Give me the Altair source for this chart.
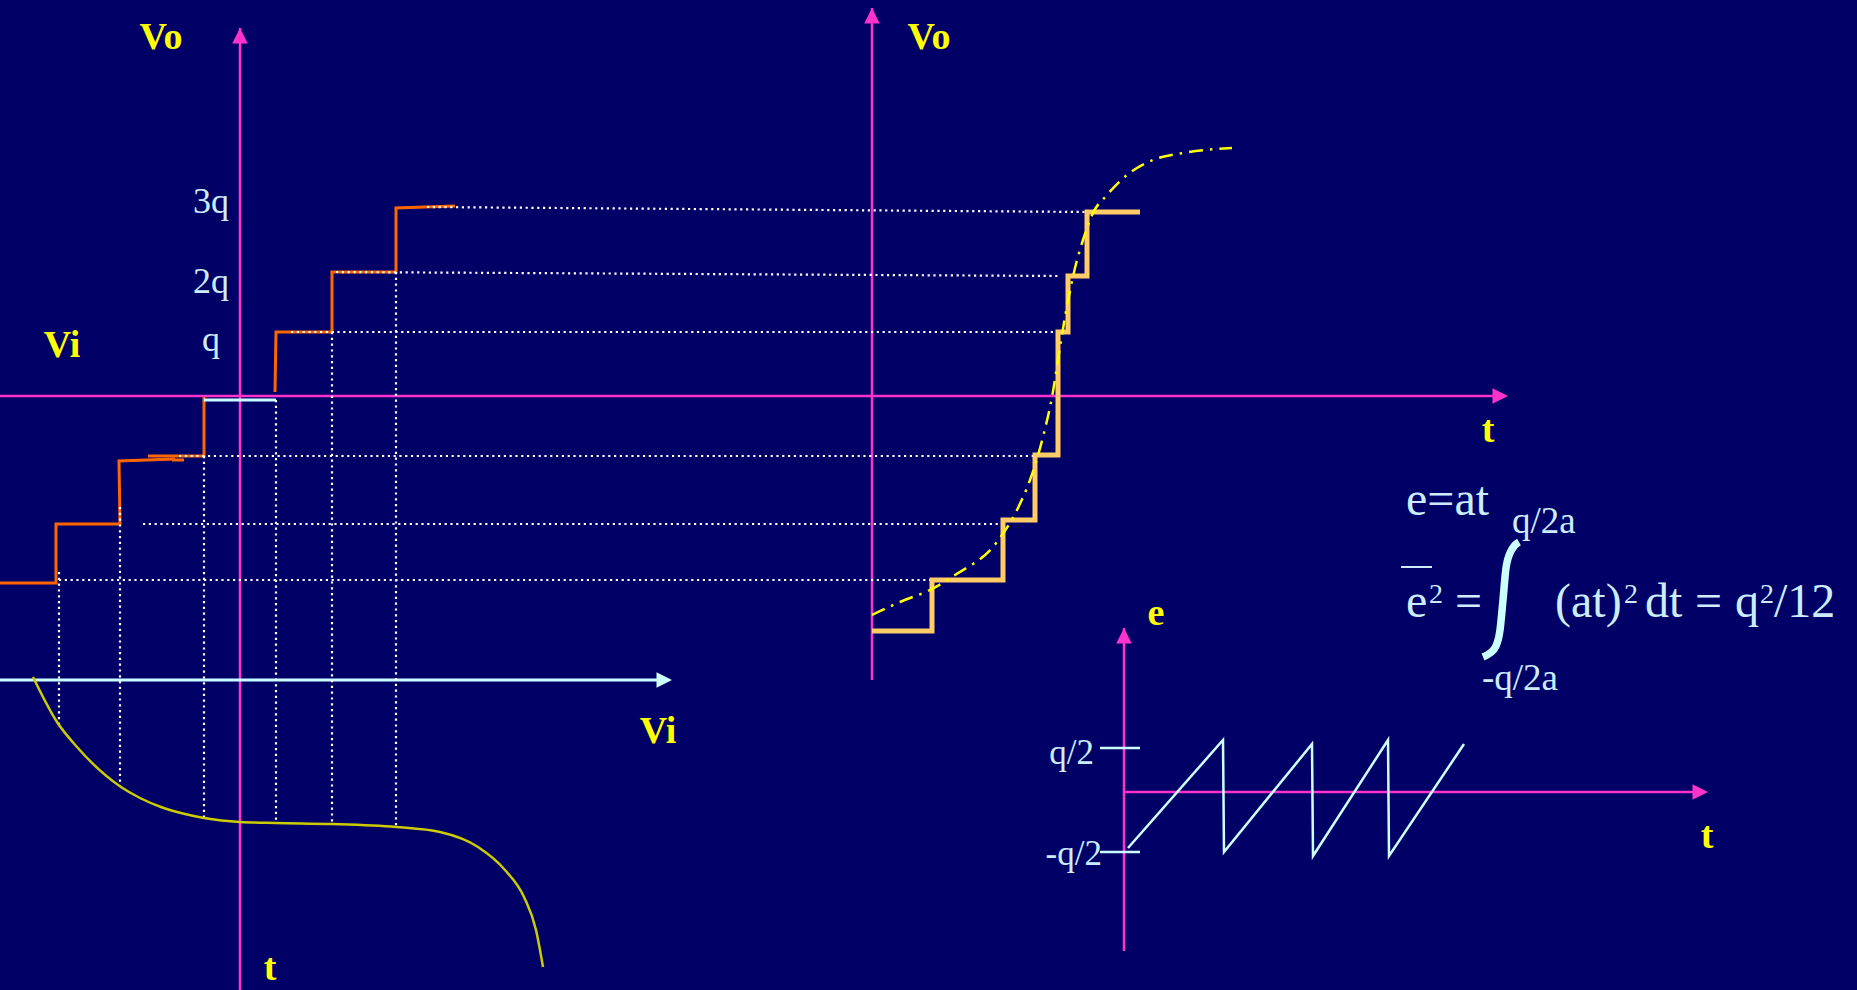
import altair as alt
import pandas as pd

# Canvas in diagram units (origin top-left, y grows downward)
W, H = 1857, 990

BG = "#000066"
MAGENTA = "#ff33cc"
CYAN = "#ccffff"
TEXT = "#ccecff"
YELLOW = "#ffff00"
ORANGE = "#ff6600"
GOLD = "#ffcc66"
OLIVE = "#cccc00"

# ---- magenta axes (x, y, x2, y2)
axis_x = [240, 0, 872, 1124, 1124]
axis_y = [28, 396, 8, 628, 792]
axis_x2 = [240, 1500, 872, 1124, 1700]
axis_y2 = [990, 396, 680, 951, 792]

# ---- arrow heads: tip position and direction
arrow_x = [240, 872, 1124, 1508, 1708, 672]
arrow_y = [28, 8, 628, 396, 792, 680]
arrow_dir = ["up", "up", "up", "right", "right", "right"]
arrow_col = [MAGENTA, MAGENTA, MAGENTA, MAGENTA, MAGENTA, CYAN]

# ---- Vi axis of the transfer characteristic
vi_axis_x = [0, 664]
vi_axis_y = [680, 680]

# ---- quantizer staircase Vo(Vi), drawn as several strokes
stair_a_x = [0, 56, 56, 120, 119, 175]
stair_a_y = [583, 583, 524, 524, 461, 459]
stair_b_x = [172, 184]
stair_b_y = [460, 460]
stair_c_x = [148, 204, 204]
stair_c_y = [456, 456, 397]
stair_d_x = [275, 276, 332, 332, 396, 396, 455]
stair_d_y = [392, 332, 332, 272, 272, 208, 206]
zero_step_x = [204, 276]
zero_step_y = [400, 400]

# ---- dotted projection lines: horizontals (x, y, x2, y2)
hproj_x = [427, 336, 291, 179, 143, 59]
hproj_y = [207, 272, 332, 456, 524, 580]
hproj_x2 = [1087, 1058, 1060, 1033, 1004, 932]
hproj_y2 = [212, 276, 332, 456, 524, 580]
# verticals
vproj_x = [59, 120, 204, 276, 332, 396]
vproj_y = [572, 507, 456, 400, 332, 272]
vproj_y2 = [728, 787, 818, 824, 823, 828]

# ---- input signal Vi(t)
sig_x = [33, 57, 77, 121, 140, 161, 185, 204, 240, 276, 332, 396, 440, 478, 505, 524, 536, 543]
sig_y = [677, 722, 747, 787, 798, 807, 814, 818, 822, 823, 824, 827, 832, 847, 870, 897, 930, 967]

# ---- quantized output Vo(t)
out_x = [872, 932, 932, 1003, 1003, 1035, 1035, 1058, 1058, 1068, 1068, 1087, 1087, 1140]
out_y = [631, 631, 580, 580, 520, 520, 455, 455, 332, 332, 276, 276, 212, 212]

# ---- continuous output (dash-dot)
cont_x = [872, 900, 932, 955, 997, 1018, 1030, 1044, 1052, 1060, 1065, 1075, 1083, 1093, 1107, 1127, 1153, 1183, 1232]
cont_y = [615, 602, 589, 575, 542, 508, 480, 433, 397, 347, 317, 268, 240, 213, 195, 175, 160, 153, 148]

# ---- quantization error e(t), sawtooth
saw_x = [1128, 1223, 1224, 1312, 1313, 1388, 1389, 1464]
saw_y = [848, 740, 852, 744, 856, 740, 856, 744]
tick_x = [1100, 1100]
tick_y = [748, 852]
tick_x2 = [1140, 1140]

# ---- integral sign and overbar of the formula
integ_x = [1519, 1511, 1506, 1503, 1500, 1496, 1490, 1483]
integ_y = [542, 551, 568, 600, 630, 646, 653, 657]
bar_x = [1401, 1432]
bar_y = [567, 567]

# ---- labels
axis_lbl = ["Vo", "Vi", "Vi", "t", "Vo", "t", "e", "t"]
axis_lbl_x = [161, 62, 658, 270, 929, 1488, 1156, 1707]
axis_lbl_y = [49, 357, 743, 980, 49, 442, 625, 848]

lvl_lbl = ["3q", "2q", "q"]
lvl_lbl_x = [211, 211, 211]
lvl_lbl_y = [213, 293, 351]

err_lbl = ["q/2", "-q/2"]
err_lbl_x = [1094, 1102]
err_lbl_y = [764, 865]

eq_txt = ["e=at", "q/2a", "e", "2", "=", "(at)", "2", "dt", "=", "q", "2", "/12", "-q/2a"]
eq_x = [1406, 1512, 1406, 1429, 1455, 1555, 1624, 1645, 1695, 1735, 1760, 1774, 1482]
eq_y = [515, 533, 617, 603, 617, 617, 603, 617, 617, 617, 603, 617, 690]
eq_fs = [48, 37, 48, 28, 48, 48, 28, 48, 48, 48, 28, 48, 37]

xsc = alt.Scale(domain=[0, W], nice=False, zero=False)
ysc = alt.Scale(domain=[0, H], reverse=True, nice=False, zero=False)


def X():
    return alt.X("x:Q", scale=xsc, axis=None)


def Y():
    return alt.Y("y:Q", scale=ysc, axis=None)


def path(xs, ys, key="p"):
    return pd.DataFrame({"x": xs, "y": ys, "k": key, "i": list(range(len(xs)))})


def line_layer(df, color, width, dash=None, interp="linear", cap="butt"):
    kw = dict(color=color, strokeWidth=width, strokeCap=cap, strokeJoin="miter", interpolate=interp)
    if dash:
        kw["strokeDash"] = dash
    return alt.Chart(df).mark_line(**kw).encode(X(), Y(), detail="k:N", order="i:Q")


def rule_layer(df, color, width, dash=None):
    kw = dict(color=color, strokeWidth=width, strokeCap="butt")
    if dash:
        kw["strokeDash"] = dash
    return alt.Chart(df).mark_rule(**kw).encode(X(), Y(), x2="x2:Q", y2="y2:Q")


def text_layer(df, color, weight, align):
    return alt.Chart(df).mark_text(
        color=color, font="Liberation Serif", fontWeight=weight, align=align, baseline="alphabetic"
    ).encode(X(), Y(), text="s:N", size=alt.Size("fs:Q", scale=None))


axes_df = pd.DataFrame({"x": axis_x, "y": axis_y, "x2": axis_x2, "y2": axis_y2})
hproj_df = pd.DataFrame({"x": hproj_x, "y": hproj_y, "x2": hproj_x2, "y2": hproj_y2})
vproj_df = pd.DataFrame({"x": vproj_x, "y": vproj_y, "x2": vproj_x, "y2": vproj_y2})
ticks_df = pd.DataFrame({"x": tick_x, "y": tick_y, "x2": tick_x2, "y2": tick_y})

stairs_df = pd.concat([
    path(stair_a_x, stair_a_y, "a"),
    path(stair_b_x, stair_b_y, "b"),
    path(stair_c_x, stair_c_y, "c"),
    path(stair_d_x, stair_d_y, "d"),
])

UP = "M0,0L-1,2L1,2Z"
RIGHT = "M0,0L-2,-1L-2,1Z"
arrows_df = pd.DataFrame({"x": arrow_x, "y": arrow_y, "d": arrow_dir, "c": arrow_col})
arrow_layers = []
for d, shape in (("up", UP), ("right", RIGHT)):
    for c in (MAGENTA, CYAN):
        sub = arrows_df[(arrows_df.d == d) & (arrows_df.c == c)]
        if len(sub):
            arrow_layers.append(
                alt.Chart(sub).mark_point(shape=shape, filled=True, size=240, color=c, opacity=1, strokeWidth=0)
                .encode(X(), Y())
            )

axis_lbl_df = pd.DataFrame({"x": axis_lbl_x, "y": axis_lbl_y, "s": axis_lbl, "fs": 38})
lvl_df = pd.DataFrame({"x": lvl_lbl_x, "y": lvl_lbl_y, "s": lvl_lbl, "fs": 36})
err_df = pd.DataFrame({"x": err_lbl_x, "y": err_lbl_y, "s": err_lbl, "fs": 35})
eq_df = pd.DataFrame({"x": eq_x, "y": eq_y, "s": eq_txt, "fs": eq_fs})

layers = [
    rule_layer(axes_df, MAGENTA, 2.5),
    line_layer(path(vi_axis_x, vi_axis_y), CYAN, 3),
    line_layer(stairs_df, ORANGE, 3),
    line_layer(path(zero_step_x, zero_step_y), CYAN, 3),
    rule_layer(hproj_df, "#ffffff", 2.2, dash=[2.2, 3.6]),
    rule_layer(vproj_df, "#ffffff", 2.2, dash=[2.2, 3.6]),
    line_layer(path(out_x, out_y), GOLD, 5),
    line_layer(path(cont_x, cont_y), YELLOW, 2.5, dash=[14, 7, 2.5, 7], interp="monotone"),
    line_layer(path(sig_x, sig_y), OLIVE, 2.5, interp="monotone"),
    line_layer(path(saw_x, saw_y), CYAN, 2.5),
    rule_layer(ticks_df, CYAN, 2.5),
    line_layer(path(integ_x, integ_y), CYAN, 7.5, interp="monotone"),
    line_layer(path(bar_x, bar_y), TEXT, 2),
    *arrow_layers,
    text_layer(axis_lbl_df, YELLOW, "bold", "center"),
    text_layer(lvl_df, TEXT, "normal", "center"),
    text_layer(err_df, TEXT, "normal", "right"),
    text_layer(eq_df, TEXT, "normal", "left"),
]

chart = (
    alt.layer(*layers)
    .properties(width=W, height=H, background=BG, padding=0,
                autosize=alt.AutoSizeParams(type="none"))
    .configure_view(strokeWidth=0)
)

chart.save("out.html", embed_options={"renderer": "svg", "actions": False})
